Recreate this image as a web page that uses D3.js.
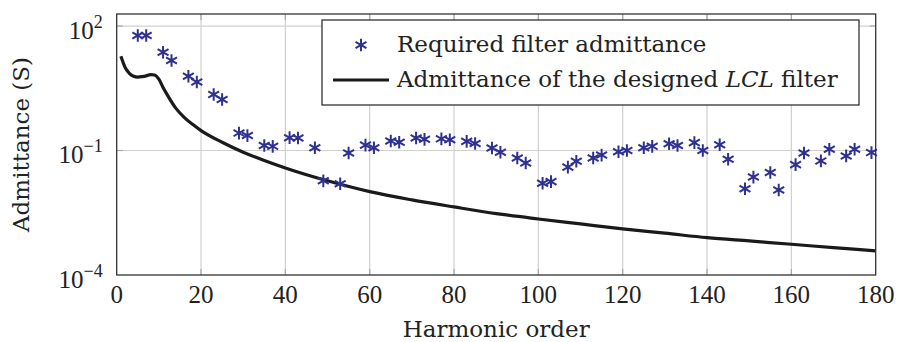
<!DOCTYPE html>
<html>
<head>
<meta charset="utf-8">
<script src="https://cdn.jsdelivr.net/npm/d3@7"></script>
<style>
  body { margin: 0; background: #fff; }
  svg text { font-family: "Liberation Serif", "DejaVu Serif", serif; fill: #222; }
  svg text.word { font-family: "DejaVu Serif", serif; }
</style>
</head>
<body>
<svg id="chart" width="897" height="342"></svg>
<script>
// required admittance at the odd non-triplen harmonics
const harmonics = [5, 7, 11, 13, 17, 19, 23, 25, 29, 31, 35, 37, 41, 43, 47, 49, 53, 55, 59, 61,
  65, 67, 71, 73, 77, 79, 83, 85, 89, 91, 95, 97, 101, 103, 107, 109, 113, 115, 119, 121,
  125, 127, 131, 133, 137, 139, 143, 145, 149, 151, 155, 157, 161, 163, 167, 169, 173, 175, 179];
const required = [58.9, 58.9, 23.4, 14.8, 6.17, 4.47, 2.24, 1.70, 0.263, 0.229, 0.132, 0.126, 0.204, 0.200, 0.117, 0.0186, 0.0158, 0.0871, 0.135, 0.117,
  0.170, 0.158, 0.200, 0.186, 0.191, 0.182, 0.166, 0.148, 0.115, 0.0912, 0.0661, 0.0501, 0.0162, 0.0178, 0.0398, 0.0550, 0.0661, 0.0776, 0.0933, 0.100,
  0.117, 0.126, 0.145, 0.132, 0.155, 0.100, 0.138, 0.0617, 0.0120, 0.0229, 0.0295, 0.0112, 0.0457, 0.0871, 0.0562, 0.107, 0.0741, 0.107, 0.0891];

// admittance of the designed LCL filter
const lclOrder = [1, 2, 3, 4, 5, 6, 7, 8, 9, 10, 11, 12, 14, 16, 18, 20, 25, 30, 35, 40, 50, 60, 70, 80, 90, 100,
  110, 120, 130, 140, 150, 160, 170, 180];
const lclAdmittance = [18.6, 10.0, 7.24, 6.17, 5.89, 6.03, 6.31, 6.76, 6.61, 5.25, 3.31, 2.19, 1.05, 0.631, 0.427, 0.302,
  0.158, 0.0912, 0.0575, 0.0380, 0.0186, 0.0102, 0.00646, 0.00437, 0.00302, 0.00224, 0.00170, 0.00129, 0.00102,
  0.000794, 0.000661, 0.000550, 0.000457, 0.000380];

const xTicks = [0, 20, 40, 60, 80, 100, 120, 140, 160, 180];
const yTicks = [1e-4, 1e-1, 1e2];
const yTickExp = ["\u22124", "\u22121", "2"];

const starColor = "#2e3192";

const svg = d3.select("#chart");
const pLeft = 116.7, pRight = 875.7, pTop = 14, pBottom = 275;

const x = d3.scaleLinear().domain([0, 180]).range([pLeft, pRight]);
const y = d3.scaleLog().domain([1e-4, 195]).range([pBottom, pTop]);

// grid
const grid = svg.append("g").attr("stroke", "#d0d0d0").attr("stroke-width", 1.2);
grid.selectAll(".vg").data(xTicks.slice(1, -1)).enter().append("line")
  .attr("x1", d => x(d)).attr("x2", d => x(d)).attr("y1", pTop).attr("y2", pBottom);
grid.selectAll(".hg").data(yTicks.slice(1)).enter().append("line")
  .attr("x1", pLeft).attr("x2", pRight).attr("y1", d => y(d)).attr("y2", d => y(d));

// small inward ticks
const ticks = svg.append("g").attr("stroke", "#a8a8a8").attr("stroke-width", 1.2);
xTicks.slice(1, -1).forEach(d => {
  ticks.append("line").attr("x1", x(d)).attr("x2", x(d)).attr("y1", pBottom).attr("y2", pBottom - 6);
  ticks.append("line").attr("x1", x(d)).attr("x2", x(d)).attr("y1", pTop).attr("y2", pTop + 6);
});
yTicks.slice(1).forEach(d => {
  ticks.append("line").attr("x1", pLeft).attr("x2", pLeft + 6).attr("y1", y(d)).attr("y2", y(d));
  ticks.append("line").attr("x1", pRight).attr("x2", pRight - 6).attr("y1", y(d)).attr("y2", y(d));
});

// LCL curve
const line = d3.line()
  .x((d, i) => x(lclOrder[i]))
  .y(d => y(d))
  .curve(d3.curveMonotoneX);
svg.append("path")
  .datum(lclAdmittance)
  .attr("d", line)
  .attr("fill", "none")
  .attr("stroke", "#1a1a1a")
  .attr("stroke-width", 3.2)
  .attr("stroke-linejoin", "round");

// asterisk marker
function asterisk(r) {
  const c = r * Math.cos(Math.PI / 6), s = r * Math.sin(Math.PI / 6);
  return `M0,${-r}L0,${r}M${-c},${-s}L${c},${s}M${-c},${s}L${c},${-s}`;
}

svg.append("g").selectAll("path")
  .data(required)
  .enter().append("path")
  .attr("transform", (d, i) => `translate(${x(harmonics[i])},${y(d)})`)
  .attr("d", asterisk(6.3))
  .attr("stroke", starColor)
  .attr("stroke-width", 2)
  .attr("fill", "none");

// frame
svg.append("rect")
  .attr("x", pLeft).attr("y", pTop)
  .attr("width", pRight - pLeft).attr("height", pBottom - pTop)
  .attr("fill", "none").attr("stroke", "#333").attr("stroke-width", 1.3);

// tick labels
svg.append("g").selectAll("text").data(xTicks).enter().append("text")
  .attr("x", d => x(d)).attr("y", pBottom + 28)
  .attr("text-anchor", "middle")
  .attr("font-size", 25)
  .text(d => d);

const yl = svg.append("g").selectAll("text").data(yTicks).enter().append("text")
  .attr("x", pLeft - 14).attr("y", d => y(d) + 12.5)
  .attr("text-anchor", "end")
  .attr("font-size", 25);
yl.append("tspan").text("10");
yl.append("tspan").attr("dy", -11).attr("font-size", 18).text((d, i) => yTickExp[i]);

// axis titles
svg.append("text").attr("class", "word")
  .attr("x", (pLeft + pRight) / 2).attr("y", 337)
  .attr("text-anchor", "middle").attr("font-size", 23)
  .text("Harmonic order");
svg.append("text").attr("class", "word")
  .attr("transform", `translate(29,${(pTop + pBottom) / 2}) rotate(-90)`)
  .attr("text-anchor", "middle").attr("font-size", 23)
  .text("Admittance (S)");

// legend
const lg = svg.append("g");
lg.append("rect")
  .attr("x", 322).attr("y", 20).attr("width", 537).attr("height", 85)
  .attr("fill", "#fff").attr("stroke", "#222").attr("stroke-width", 1.2);
lg.append("path")
  .attr("transform", "translate(361,45)")
  .attr("d", asterisk(6.3))
  .attr("stroke", starColor).attr("stroke-width", 2).attr("fill", "none");
lg.append("line")
  .attr("x1", 333).attr("x2", 389).attr("y1", 80).attr("y2", 80)
  .attr("stroke", "#1a1a1a").attr("stroke-width", 3.2);
lg.append("text").attr("class", "word").attr("x", 397).attr("y", 52).attr("font-size", 23)
  .text("Required filter admittance");
const t2 = lg.append("text").attr("class", "word").attr("x", 397).attr("y", 87).attr("font-size", 23);
t2.append("tspan").text("Admittance of the designed ");
t2.append("tspan").attr("font-style", "italic").text("LCL");
t2.append("tspan").text(" filter");
</script>
</body>
</html>
